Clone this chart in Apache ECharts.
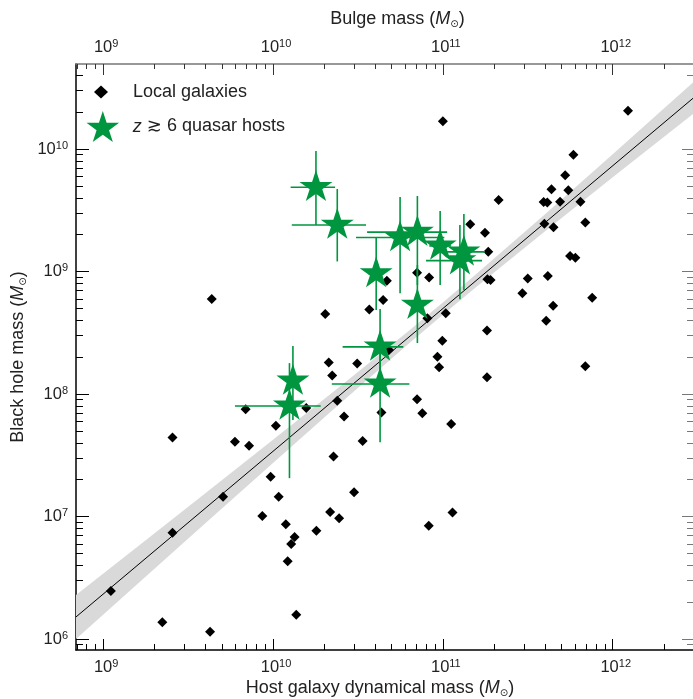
<!DOCTYPE html>
<html><head><meta charset="utf-8">
<script src="https://cdn.jsdelivr.net/npm/echarts@6/dist/echarts.min.js"></script>
<style>html,body{margin:0;padding:0;background:#fff}#c{width:693px;height:699px}</style>
</head><body><div id="c"></div>
<script>
// ---------- axis ranges and ticks ----------
const xRange = [6.92e8, 2.97e12];
const yRange = [8.15e5, 4.95e10];
const xMajorTicks = [1e9, 1e10, 1e11, 1e12];
const xTickExponents = ['9', '10', '11', '12'];
const yMajorTicks = [1e6, 1e7, 1e8, 1e9, 1e10];
const yTickExponents = ['6', '7', '8', '9', '10'];

// ---------- local galaxies (dynamical mass, black hole mass) ----------
const localMass = [1.23e12, 1.0e11, 5.87e11, 5.25e11, 4.36e11, 5.48e11, 3.92e11, 4.12e11, 4.90e11, 6.46e11,
  2.13e11, 3.96e11, 4.48e11, 6.90e11, 1.45e11, 1.77e11, 1.85e11, 5.61e11, 6.03e11, 1.83e11,
  1.91e11, 3.16e11, 4.15e11, 2.94e11, 4.46e11, 7.57e11, 4.68e10, 7.05e10, 8.30e10, 4.45e10,
  3.69e10, 1.04e11, 8.11e10, 1.82e11, 4.06e11, 9.93e10, 9.29e10, 9.51e10, 1.82e11, 6.90e11,
  3.13e10, 4.82e10, 7.05e10, 7.57e10, 4.35e10, 2.62e10, 1.12e11, 3.37e10, 2.39e10, 4.36e9,
  2.03e10, 2.13e10, 2.23e10, 1.57e10, 6.90e9, 1.04e10, 2.56e9, 5.97e9, 7.23e9, 2.27e10,
  9.68e9, 1.08e10, 3.00e10, 5.08e9, 8.65e9, 2.17e10, 2.45e10, 1.19e10, 1.80e10, 1.34e10,
  1.28e10, 1.22e10, 2.56e9, 1.11e9, 2.23e9, 4.26e9, 1.37e10, 8.26e10, 1.14e11];
const localBH = [2.06e10, 1.69e10, 8.99e9, 6.11e9, 4.70e9, 4.61e9, 3.70e9, 3.66e9, 3.72e9, 3.72e9,
  3.85e9, 2.46e9, 2.30e9, 2.52e9, 2.43e9, 2.08e9, 1.45e9, 1.34e9, 1.30e9, 8.65e8,
  8.53e8, 8.79e8, 9.20e8, 6.65e8, 5.27e8, 6.12e8, 8.41e8, 9.80e8, 8.95e8, 5.86e8,
  4.91e8, 4.57e8, 4.16e8, 3.30e8, 3.97e8, 2.73e8, 2.02e8, 1.66e8, 1.37e8, 1.69e8,
  1.78e8, 2.29e8, 9.08e7, 6.97e7, 7.08e7, 6.55e7, 5.70e7, 4.14e7, 8.83e7, 5.97e8,
  4.51e8, 1.81e8, 1.42e8, 7.71e7, 7.52e7, 5.52e7, 4.43e7, 4.08e7, 3.79e7, 3.10e7,
  2.12e7, 1.45e7, 1.58e7, 1.45e7, 1.01e7, 1.09e7, 9.68e6, 8.65e6, 7.67e6, 6.81e6,
  5.97e6, 4.32e6, 7.40e6, 2.47e6, 1.37e6, 1.15e6, 1.58e6, 8.43e6, 1.08e7];

// ---------- z >= 6 quasar hosts (value and error-bar ends) ----------
const qsoMass   = [1.79e10, 2.39e10, 4.05e10, 5.60e10, 7.08e10, 9.64e10, 1.33e11, 1.26e11, 7.08e10, 4.27e10, 4.27e10, 1.31e10, 1.25e10];
const qsoMassLo = [1.27e10, 1.29e10, 3.63e10, 3.08e10, 3.58e10, 8.32e10, 1.06e11, 7.96e10, 6.46e10, 2.57e10, 2.22e10, 1.21e10, 5.97e9];
const qsoMassHi = [2.32e10, 3.53e10, 4.47e10, 1.02e11, 1.06e11, 1.12e11, 1.77e11, 1.70e11, 7.76e10, 5.85e10, 6.35e10, 1.40e10, 1.91e10];
const qsoBH     = [4.88e9, 2.40e9, 9.64e8, 1.90e9, 2.10e9, 1.62e9, 1.45e9, 1.23e9, 5.33e8, 2.43e8, 1.21e8, 1.28e8, 8.00e7];
const qsoBHLo   = [2.40e9, 1.21e9, 4.86e8, 6.65e8, 7.78e8, 7.78e8, 7.08e8, 5.94e8, 2.61e8, 1.19e8, 4.05e7, 6.15e7, 2.06e7];
const qsoBHHi   = [9.66e9, 4.72e9, 1.91e9, 4.06e9, 4.14e9, 3.13e9, 2.95e9, 2.40e9, 1.13e9, 4.95e8, 2.47e8, 2.47e8, 1.79e8];

// ---------- local relation and its uncertainty band ----------
const fitMass = [6.92e8, 2.97e12];
const fitBH   = [1.517e6, 2.60e10];
const bandMass = [6.92e8, 1.585e9, 3.98e9, 1e10, 2.51e10, 6.31e10, 1e11, 1.585e11, 3.98e11, 1e12, 2.97e12];
const bandHigh = [2.294e6, 5.657e6, 1.546e7, 4.236e7, 1.170e8, 3.292e8, 5.598e8, 9.629e8, 2.928e9, 9.073e9, 3.488e10];
const bandLow  = [1.002e6, 2.805e6, 8.786e6, 2.744e7, 8.502e7, 2.585e8, 4.446e8, 7.561e8, 2.128e9, 5.877e9, 1.935e10];

const FONT = "'Liberation Sans', Arial, 'DejaVu Sans', sans-serif";
const TXT = '#222';
const GREEN = '#00963f';
const STAR = 'path://M50 0L61.23 34.55L97.55 34.55L68.17 55.9L79.39 90.45L50 69.1L20.61 90.45L31.83 55.9L2.45 34.55L38.77 34.55Z';

function minorTicks(range) {
  const out = [];
  const e0 = Math.floor(Math.log10(range[0])) - 1, e1 = Math.ceil(Math.log10(range[1]));
  for (let e = e0; e <= e1; e++) {
    for (let m = 2; m <= 9; m++) {
      const v = m * Math.pow(10, e);
      if (v > range[0] && v < range[1]) out.push(v);
    }
  }
  return out;
}
function labelFmt(ticks, exps) {
  return function (v) {
    const e = Math.round(Math.log10(v));
    let idx = ticks.findIndex(t => Math.round(Math.log10(t)) === e);
    return '{b|10}{s|' + (idx >= 0 ? exps[idx] : e) + '}';
  };
}
const labelRich = {
  b: { fontSize: 16.5, fontFamily: FONT, color: TXT, lineHeight: 18 },
  s: { fontSize: 11, fontFamily: FONT, color: TXT, verticalAlign: 'top', lineHeight: 11 }
};
const nameRich = {
  n: { fontSize: 18, fontFamily: FONT, color: TXT, lineHeight: 20 },
  i: { fontSize: 18, fontFamily: FONT, color: TXT, fontStyle: 'italic', lineHeight: 20 },
  sub: { fontSize: 10, fontFamily: "'DejaVu Sans', sans-serif", color: TXT, verticalAlign: 'bottom', lineHeight: 12 }
};
function massName(prefix) { return '{n|' + prefix + ' (}{i|M}{sub|⊙}{n|)}'; }

function axis(o) {
  const a = {
    type: 'log', logBase: 10, min: o.range[0], max: o.range[1],
    position: o.position, offset: 0,
    axisLine: { show: !!o.lineColor, onZero: false, lineStyle: { color: o.lineColor || '#000', width: 1.5 } },
    axisTick: { show: true, inside: true, length: o.tickLen, customValues: o.ticks, lineStyle: { color: o.tickColor, width: 1 } },
    minorTick: { show: false }, splitLine: { show: false }, minorSplitLine: { show: false },
    axisLabel: { show: false }
  };
  if (o.labels) {
    a.axisLabel = {
      show: true, customValues: o.ticks, formatter: labelFmt(o.ticks, o.labels), rich: labelRich,
      margin: o.margin, hideOverlap: false, padding: o.labelPad || 0
    };
  }
  if (o.name) {
    a.name = o.name; a.nameLocation = 'middle'; a.nameGap = o.nameGap;
    a.nameMoveOverlap = false;
    a.nameTextStyle = { rich: nameRich, padding: o.namePad || 0 };
  }
  return a;
}

const xMinor = minorTicks(xRange), yMinor = minorTicks(yRange);

const option = {
  animation: false,
  backgroundColor: '#fff',
  grid: { left: 76, right: 0, top: 64, bottom: 49, containLabel: false, outerBoundsMode: 'none' },
  xAxis: [
    axis({ range: xRange, position: 'bottom', lineColor: '#000', tickColor: '#000', tickLen: 11, ticks: xMajorTicks, labels: xTickExponents, margin: 8, labelPad: [0, 0, 0, 6],
           name: massName('Host galaxy dynamical mass'), nameGap: 28, namePad: [0, 9, 0, 0] }),
    axis({ range: xRange, position: 'bottom', tickColor: '#000', tickLen: 6, ticks: xMinor }),
    axis({ range: xRange, position: 'top', lineColor: '#777', tickColor: '#333', tickLen: 11, ticks: xMajorTicks, labels: xTickExponents, margin: 8, labelPad: [0, 0, 0, 6],
           name: massName('Bulge mass'), nameGap: 35, namePad: [0, 0, 0, 26] }),
    axis({ range: xRange, position: 'top', tickColor: '#333', tickLen: 5, ticks: xMinor })
  ],
  yAxis: [
    axis({ range: yRange, position: 'left', lineColor: '#000', tickColor: '#000', tickLen: 13, ticks: yMajorTicks, labels: yTickExponents, margin: 8,
           name: massName('Black hole mass'), nameGap: 48 }),
    axis({ range: yRange, position: 'left', tickColor: '#000', tickLen: 7, ticks: yMinor }),
    axis({ range: yRange, position: 'right', tickColor: '#777', tickLen: 11, ticks: yMajorTicks }),
    axis({ range: yRange, position: 'right', tickColor: '#777', tickLen: 6, ticks: yMinor })
  ],
  legend: [
    { data: [{ name: 'Local galaxies', icon: 'diamond' }], left: 94, top: 83, padding: 0, orient: 'vertical',
      itemWidth: 14, itemHeight: 13, selectedMode: false,
      textStyle: { fontSize: 18, fontFamily: FONT, color: TXT, padding: [0, 0, 0, 20] } },
    { data: [{ name: 'z ≳ 6 quasar hosts', icon: STAR }], left: 86.5, top: 111, padding: 0, orient: 'vertical',
      itemWidth: 33, itemHeight: 31, selectedMode: false,
      formatter: n => n.replace(/^z/, '{i|z}'),
      textStyle: { fontSize: 18, fontFamily: FONT, color: TXT, padding: [0, 0, 0, 8.5],
        rich: { i: { fontSize: 18, fontFamily: FONT, color: TXT, fontStyle: 'italic' } } } }
  ],
  series: [
    { name: 'band', type: 'custom', z: 1, silent: true, xAxisIndex: 0, yAxisIndex: 0,
      data: [[bandMass[0], bandLow[0]]],
      renderItem: function (params, api) {
        const pts = [];
        for (let i = 0; i < bandMass.length; i++) pts.push(api.coord([bandMass[i], bandHigh[i]]));
        for (let i = bandMass.length - 1; i >= 0; i--) pts.push(api.coord([bandMass[i], bandLow[i]]));
        return { type: 'polygon', shape: { points: pts }, style: { fill: '#d9d9d9' } };
      } },
    { name: 'fit', type: 'line', z: 2, silent: true, xAxisIndex: 0, yAxisIndex: 0, symbol: 'none',
      data: fitMass.map((m, i) => [m, fitBH[i]]), lineStyle: { color: '#000', width: 1 } },
    { name: 'Local galaxies', type: 'scatter', z: 3, xAxisIndex: 0, yAxisIndex: 0,
      symbol: 'diamond', symbolSize: 10, itemStyle: { color: '#000', opacity: 1 },
      data: localMass.map((m, i) => [m, localBH[i]]) },
    { name: 'errors', type: 'custom', z: 4, silent: true, xAxisIndex: 0, yAxisIndex: 0,
      data: qsoMass.map((m, i) => [m, qsoBH[i], qsoMassLo[i], qsoMassHi[i], qsoBHLo[i], qsoBHHi[i]]),
      renderItem: function (params, api) {
        const x = api.value(0), y = api.value(1);
        const a = api.coord([api.value(2), y]), b = api.coord([api.value(3), y]);
        const c = api.coord([x, api.value(4)]), d = api.coord([x, api.value(5)]);
        const st = { stroke: GREEN, lineWidth: 1.6 };
        return { type: 'group', children: [
          { type: 'line', shape: { x1: a[0], y1: a[1], x2: b[0], y2: b[1] }, style: st },
          { type: 'line', shape: { x1: c[0], y1: c[1], x2: d[0], y2: d[1] }, style: st }
        ] };
      } },
    { name: 'z ≳ 6 quasar hosts', type: 'scatter', z: 5, xAxisIndex: 0, yAxisIndex: 0,
      symbol: STAR, symbolSize: [33, 31], symbolOffset: [0, -1.7], itemStyle: { color: GREEN, opacity: 1 },
      data: qsoMass.map((m, i) => [m, qsoBH[i]]) }
  ]
};
const chart = echarts.init(document.getElementById('c'), null, { renderer: 'canvas' });
chart.setOption(option);
</script></body></html>
